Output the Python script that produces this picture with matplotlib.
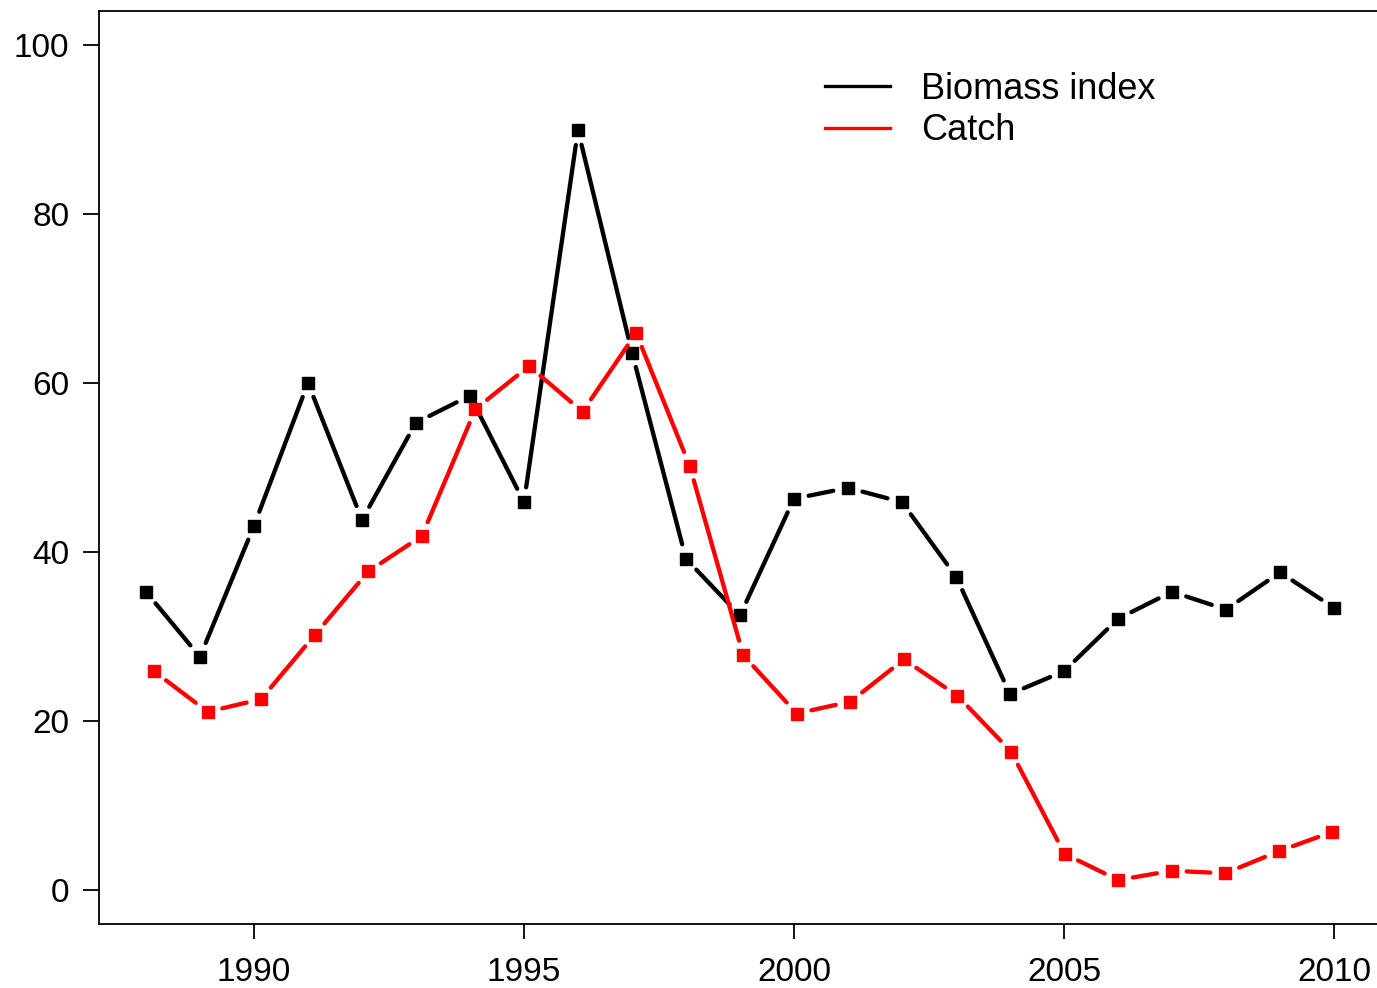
import numpy as np
import matplotlib
matplotlib.use("Agg")
import matplotlib.pyplot as plt
from matplotlib.lines import Line2D

years = np.arange(1988, 2011)
biomass = [35.3, 27.6, 43.1, 60.0, 43.8, 55.3, 58.5, 45.9, 89.9, 63.6, 39.2, 32.5,
           46.3, 47.6, 45.9, 37.1, 23.2, 25.9, 32.1, 35.3, 33.2, 37.6, 33.4]
catch = [25.9, 21.1, 22.6, 30.2, 37.7, 41.9, 56.9, 62.0, 56.6, 65.9, 50.2, 27.8,
         20.9, 22.3, 27.3, 23.0, 16.4, 4.3, 1.2, 2.3, 2.0, 4.6, 6.9]
# catch series sits on a slightly narrower x scale in the original
catch_x = np.linspace(1988.15, 2009.97, len(years))
yticks = [0, 20, 40, 60, 80, 100]
xticks = [1990, 1995, 2000, 2005, 2010]

plt.rcParams["font.family"] = ["Liberation Sans", "DejaVu Sans"]

fig = plt.figure(figsize=(13.77, 9.88), dpi=100)
ax = fig.add_axes([99 / 1377, 1 - 924 / 988, 1282.5 / 1377, 913 / 988])
ax.set_xlim(1987.13, 2010.88)
ax.set_ylim(-4, 104)


def plot_b(ax, x, y, color, gap=15, ms=8.6, lw=3.1):
    """R type='b': points joined by segments that stop short of each point."""
    pts = ax.transData.transform(np.column_stack([x, y]))
    inv = ax.transData.inverted()
    for p0, p1 in zip(pts[:-1], pts[1:]):
        d = p1 - p0
        L = np.hypot(*d)
        if L <= 2 * gap:
            continue
        u = d / L
        a, b = inv.transform(np.array([p0 + u * gap, p1 - u * gap]))
        ax.plot([a[0], b[0]], [a[1], b[1]], color=color, lw=lw,
                solid_capstyle="round")
    ax.plot(x, y, ls="none", marker="s", ms=ms, color=color, mec=color)


plot_b(ax, years, biomass, "black")
plot_b(ax, catch_x, catch, "#ff0000")

ax.set_xticks(xticks)
ax.set_yticks(yticks)
ax.tick_params(labelsize=24, length=10.5, width=1.3)
ax.tick_params(axis="x", pad=13.5)
ax.tick_params(axis="y", length=11.5, pad=10)
for s in ax.spines.values():
    s.set_linewidth(1.3)

handles = [Line2D([], [], color="black", lw=2.4),
           Line2D([], [], color="#ff0000", lw=2.4)]
ax.legend(handles, ["Biomass index", "Catch"], loc="upper left",
          bbox_to_anchor=(0.555, 0.949), frameon=False, fontsize=26,
          handlelength=1.8, handletextpad=0.86, labelspacing=0.17,
          borderaxespad=0)

fig.savefig("out.png", dpi=100)
